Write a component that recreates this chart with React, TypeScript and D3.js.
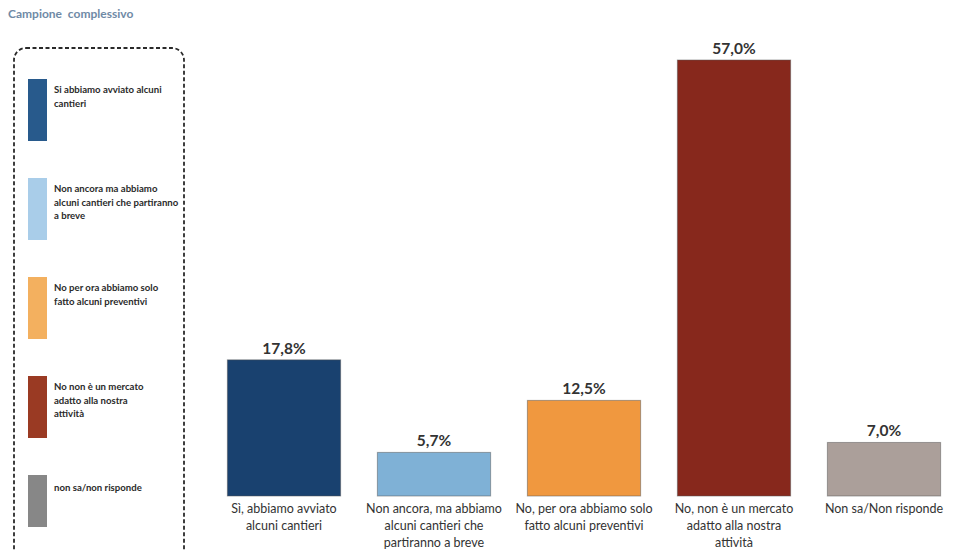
import React from "react";
import * as d3 from "d3";

const categories = [
  ["Sì, abbiamo avviato", "alcuni cantieri"],
  ["Non ancora, ma abbiamo", "alcuni cantieri che", "partiranno a breve"],
  ["No, per ora abbiamo solo", "fatto alcuni preventivi"],
  ["No, non è un mercato", "adatto alla nostra", "attività"],
  ["Non sa/Non risponde"],
];
const values = [17.8, 5.7, 12.5, 57.0, 7.0];
const valueLabels = ["17,8%", "5,7%", "12,5%", "57,0%", "7,0%"];
const barColors = ["#19416f", "#7fb1d6", "#f0983f", "#87281c", "#ab9f9a"];

const legendLabels = [
  ["Si abbiamo avviato alcuni", "cantieri"],
  ["Non ancora ma abbiamo", "alcuni cantieri che partiranno", "a breve"],
  ["No per ora abbiamo solo", "fatto alcuni preventivi"],
  ["No non è un mercato", "adatto alla nostra", "attività"],
  ["non sa/non risponde"],
];
const legendColors = ["#285a8c", "#a9cde9", "#f3b05f", "#9a3a23", "#878787"];

const W = 958;
const H = 551;
const FONT = "Lato, 'Open Sans', sans-serif";

export default function App() {
  const idx = values.map((_, i) => i);
  const x = d3
    .scaleBand<number>()
    .domain(idx)
    .range([209, 959])
    .paddingInner(0.245)
    .paddingOuter(0.1225);
  const baseline = 496;
  const y = d3.scaleLinear().domain([0, 57]).range([baseline, 60]);

  const legendItemTop = d3.scaleLinear().domain([0, 4]).range([79, 475]);

  return (
    <svg
      width={W}
      height={H}
      style={{ position: "absolute", left: 0, top: 0, background: "#fff" }}
      fontFamily={FONT}
    >
      <text x={8} y={18} fontSize={12} fontWeight={700} fill="#6f8aa6">
        Campione&#160;&#160;complessivo
      </text>

      {/* legend */}
      <rect
        x={14}
        y={48}
        width={170}
        height={530}
        rx={12}
        fill="none"
        stroke="#2a2a2a"
        strokeWidth={1.8}
        strokeDasharray="4 2.5"
      />
      {legendLabels.map((lines, i) => {
        const top = legendItemTop(i);
        const h = i === 4 ? 52 : 62;
        const textTop = i === 4 ? top + 16 : top + 14;
        return (
          <g key={i}>
            <rect x={28} y={top} width={19} height={h} fill={legendColors[i]} />
            {lines.map((l, j) => (
              <text
                key={j}
                x={54}
                y={textTop + j * 13.5}
                fontSize={9.6}
                fontWeight={700}
                fill="#2a2a2a"
              >
                {l}
              </text>
            ))}
          </g>
        );
      })}

      {/* bars */}
      {values.map((v, i) => {
        const bx = x(i)!;
        const bw = x.bandwidth();
        return (
          <g key={i}>
            <rect
              x={bx}
              y={y(v)}
              width={bw}
              height={baseline - y(v)}
              fill={barColors[i]}
              stroke="#555"
              strokeOpacity={0.5}
              strokeWidth={1}
            />
            <text
              x={bx + bw / 2}
              y={y(v) - 6}
              textAnchor="middle"
              fontSize={15.5}
              fontWeight={700}
              fill="#333"
            >
              {valueLabels[i]}
            </text>
            {categories[i].map((l, j) => (
              <text
                key={j}
                x={bx + bw / 2}
                y={513 + j * 17}
                textAnchor="middle"
                fontSize={12.5}
                fill="#333"
              >
                {l}
              </text>
            ))}
          </g>
        );
      })}
    </svg>
  );
}
